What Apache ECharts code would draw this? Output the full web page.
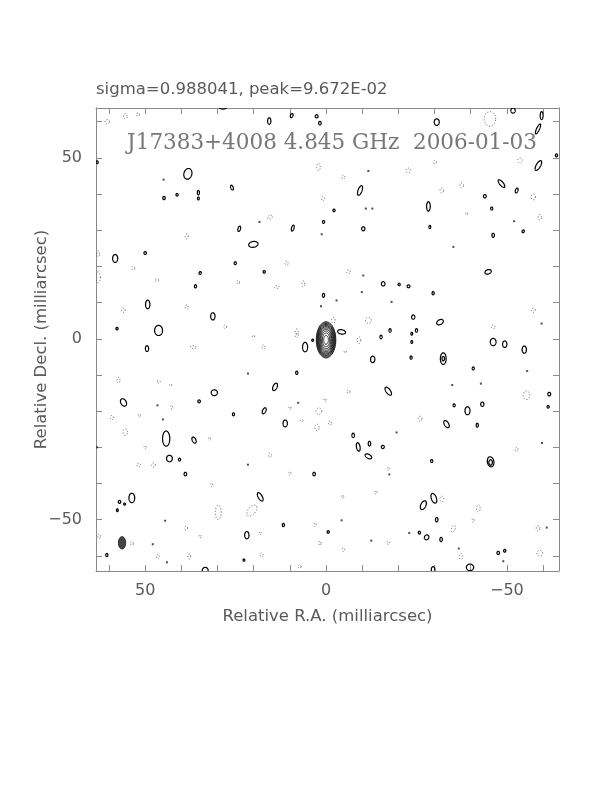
<!DOCTYPE html>
<html>
<head>
<meta charset="utf-8">
<script src="https://cdn.jsdelivr.net/npm/echarts@6/dist/echarts.min.js"></script>
<style>
html,body{margin:0;padding:0;background:#fff;}
#c{width:612px;height:792px;}
</style>
</head>
<body>
<div id="c"></div>
<script>
// ---- data (milliarcsec) ----
var xTickLabels = [50, 0, -50];
var yTickLabels = [50, 0, -50];
var minorTicks = [-60, -50, -40, -30, -20, -10, 0, 10, 20, 30, 40, 50, 60];

// central source: centre and outer contour semi-axes (RA, Dec)
var coreCentre = [0, -0.3];
var coreOuter = [2.7, 5.0];
var coreLevels = [1, 0.95, 0.9, 0.85, 0.79, 0.73, 0.66, 0.58, 0.49, 0.38, 0.24];

// restoring beam [ra, dec, semiRA, semiDec, angle]
var beam = [[56.4, -56.4, 1.0, 1.7, 0]];

// positive contours [ra, dec, semiRA, semiDec, angle(deg, ccw on screen)]
var posContours = [
 [28.5,64.0,1.0,0.5,0],[15.7,60.2,0.45,0.9,0],[9.5,61.7,0.35,0.6,-20],[2.6,61.5,0.4,0.45,0],
 [1.7,59.6,0.35,0.5,0],[63.3,48.8,0.3,0.4,0],[38.2,45.6,1.1,1.5,-15],[44.8,38.9,0.35,0.45,0],
 [41.2,39.8,0.3,0.35,0],[35.3,40.4,0.3,0.6,0],[35.3,38.8,0.25,0.4,0],[26.0,41.8,0.35,0.7,20],
 [24.0,30.4,0.35,0.75,-15],[9.2,30.6,0.35,0.85,-15],[20.1,26.1,1.3,0.8,10],[0.7,32.3,0.3,0.4,0],
 [58.3,22.2,0.7,1.1,0],[50.0,23.7,0.35,0.4,0],[25.1,20.9,0.3,0.4,0],[17.1,18.5,0.3,0.35,0],
 [34.8,18.2,0.3,0.4,-20],[36.1,14.5,0.3,0.45,0],[0.7,12.0,0.3,0.55,0],[49.3,9.5,0.6,1.2,0],
 [31.3,6.2,0.6,1.0,0],[57.8,2.8,0.3,0.35,0],[46.3,2.3,1.1,1.4,0],[-30.6,59.9,0.7,0.9,0],
 [-51.7,63.1,0.6,0.7,0],[-59.6,61.7,0.4,1.1,0],[-58.6,58.0,0.4,1.5,-25],[-63.7,50.7,0.3,0.4,0],
 [-58.7,47.9,0.6,1.5,-30],[-9.4,41.0,0.55,1.4,-20],[-48.5,42.9,0.5,1.3,40],[-52.7,41.0,0.35,0.7,-20],
 [-43.9,39.4,0.4,0.45,0],[-28.3,36.6,0.5,1.3,0],[-2.2,35.5,0.3,0.35,0],[-45.8,36.0,0.3,0.4,0],
 [-10.3,30.4,0.45,0.55,0],[-28.7,30.9,0.25,0.45,0],[-46.2,28.6,0.35,0.55,0],[-54.5,29.7,0.3,0.4,-20],
 [-44.8,18.5,0.9,0.6,20],[-15.8,15.2,0.5,0.6,0],[-20.2,15.0,0.3,0.35,0],[-22.8,14.5,0.4,0.4,0],
 [-29.6,12.6,0.3,0.45,0],[-24.1,6.0,0.45,0.6,0],[-31.5,4.6,1.0,0.65,30],[-17.7,2.3,0.3,0.5,0],
 [-25.0,2.3,0.3,0.5,0],[-4.3,1.9,1.1,0.6,-10],[49.5,-2.7,0.45,0.8,0],[5.8,-2.3,0.7,1.3,0],
 [3.7,-0.4,0.25,0.3,0],[8.1,-9.4,0.3,0.45,0],[14.1,-13.3,0.55,1.1,-25],[30.9,-14.9,0.85,0.8,0],
 [56.0,-17.6,0.75,1.1,30],[35.1,-17.3,0.35,0.4,0],[17.1,-19.9,0.45,0.9,-25],[25.6,-20.9,0.3,0.4,0],
 [11.3,-23.4,0.6,0.95,0],[44.2,-27.6,1.0,2.1,0],[36.5,-28.0,0.5,0.9,25],[43.3,-33.1,0.8,0.9,0],
 [40.5,-33.4,0.3,0.4,0],[38.9,-37.4,0.35,0.5,0],[3.3,-37.4,0.35,0.5,0],[53.7,-44.0,0.8,1.3,0],
 [57.1,-45.1,0.35,0.4,0],[55.7,-45.7,0.25,0.3,0],[57.7,-47.4,0.25,0.4,0],[18.2,-43.7,0.55,1.3,30],
 [11.8,-51.5,0.3,0.45,0],[21.9,-54.3,0.6,1.0,0],[60.6,-59.8,0.3,0.45,0],[-0.6,-53.4,0.3,0.35,0],
 [22.7,-61.2,0.25,0.3,0],[33.4,-64.0,0.8,0.8,0],[-15.2,0.5,0.3,0.5,0],[-23.7,1.4,0.25,0.4,0],
 [-23.7,-0.9,0.25,0.4,0],[-46.2,-0.9,0.8,1.0,0],[-49.4,-1.5,0.6,0.9,0],[-54.8,-3.0,0.6,1.0,0],
 [-12.9,-5.7,0.6,0.9,0],[-23.5,-5.2,0.3,0.45,0],[-32.4,-5.5,0.8,1.6,0],[-32.4,-5.5,0.35,0.6,0],
 [-40.7,-8.2,0.3,0.4,0],[-17.2,-14.5,0.6,1.3,35],[-61.7,-15.3,0.4,0.5,0],[-61.4,-18.8,0.3,0.35,0],
 [-35.4,-18.4,0.3,0.4,0],[-39.1,-19.9,0.7,1.1,0],[-43.2,-18.1,0.45,0.6,0],[-33.3,-23.6,0.6,1.1,30],
 [-41.8,-23.9,0.3,0.55,0],[-7.5,-26.7,0.35,0.6,0],[-8.9,-29.9,0.5,1.2,10],[-12.0,-29.0,0.35,0.65,0],
 [-11.7,-32.5,1.0,0.55,-30],[-15.7,-29.9,0.4,0.45,0],[-29.2,-33.8,0.3,0.4,0],[-45.5,-34.0,0.9,1.4,10],
 [-45.5,-34.2,0.5,0.75,0],[-29.8,-44.1,0.7,1.4,20],[-26.9,-46.0,0.7,1.3,-25],[-30.6,-50.0,0.35,0.6,0],
 [-25.8,-53.6,0.3,0.4,0],[-27.8,-54.9,0.6,0.7,-30],[-31.8,-55.5,0.35,0.6,0],[-47.6,-59.2,0.35,0.45,0],
 [-49.4,-58.6,0.3,0.4,0],[-29.6,-63.8,0.5,0.8,0],[-39.8,-63.2,1.0,0.9,0]
];

// single-pixel positive specks [ra, dec]
var specks = [
 [44.9,44.0],[18.4,32.3],[1.2,28.9],[1.4,9.0],[-11.7,46.4],[-11.0,36.0],[-12.8,36.0],[-52.0,32.5],
 [-35.2,25.4],[-10.3,17.5],[-9.9,12.9],[-2.9,10.6],[-18.1,10.2],[-59.6,4.2],[21.6,-9.6],[46.6,-18.4],
 [7.7,-17.7],[45.1,-22.3],[21.6,-34.8],[44.5,-50.3],[47.9,-56.8],[-34.9,-12.8],[-42.8,-12.4],
 [-19.5,-25.9],[-55.6,-8.9],[-17.5,-37.5],[-23.0,-53.7],[-36.7,-58.0],[-61.0,-52.2],[-49.0,-61.5],
 [-4.3,-50.2],[-12.5,-55.8],[63.3,-30.0],[44.0,-61.8],[-59.7,-28.8]
];

// negative (dotted) contours [ra, dec, semiRA, semiDec, angle]
var negContours = [
 [60.5,60.0,0.6,0.6,0],[55.5,61.5,0.5,0.7,0],[52.0,62.0,0.4,0.5,0],[2.1,47.5,0.5,1.0,0],
 [0.8,38.8,0.4,0.6,0],[15.5,33.6,0.7,0.5,30],[10.9,20.9,0.4,0.6,0],[24.3,15.6,0.4,0.5,0],
 [38.5,28.3,0.4,0.7,0],[63.0,17.0,0.6,1.5,0],[53.3,19.5,0.4,0.5,0],[46.8,16.2,0.5,0.4,0],
 [56.0,7.9,0.5,0.6,0],[38.5,8.8,0.4,0.6,0],[27.9,3.3,0.4,0.5,0],[6.3,15.2,0.4,0.8,0],
 [8.1,1.9,0.4,0.8,0],[13.6,14.3,0.6,0.4,0],[63.0,23.5,0.4,0.8,0],[-45.3,60.8,1.6,2.0,0],
 [-53.6,49.3,0.6,0.7,0],[-22.7,46.5,0.6,0.7,0],[-30.1,48.8,0.4,0.5,0],[-4.8,44.7,0.4,0.6,0],
 [-37.5,42.4,0.5,0.7,0],[-32.0,41.0,0.5,0.7,0],[-57.3,39.2,0.6,0.8,0],[-59.1,33.6,0.5,0.7,0],
 [-38.9,34.6,0.3,0.4,0],[-6.2,18.5,0.5,0.5,0],[-11.7,5.1,0.8,0.8,0],[-2.0,5.1,0.5,0.8,0],
 [-57.3,7.9,0.5,0.6,0],[-46.2,3.3,0.5,0.5,0],[36.7,-2.3,0.8,0.4,0],[17.3,-2.3,0.4,0.6,0],
 [20.1,0.7,0.3,0.3,0],[8.1,0.9,0.4,0.6,0],[57.4,-11.5,0.4,0.8,0],[46.3,-11.9,0.5,0.3,0],
 [43.0,-12.8,0.3,0.3,0],[42.7,-18.9,0.3,0.5,0],[10.0,-19.1,0.3,0.4,0],[2.0,-20.0,0.8,0.9,0],
 [2.5,-24.5,0.6,0.9,0],[59.2,-21.8,0.4,0.6,0],[51.6,-21.2,0.3,0.4,0],[6.7,-22.6,0.4,0.3,0],
 [55.5,-25.8,0.6,0.9,0],[32.2,-27.6,0.3,0.4,0],[50.0,-29.9,0.3,0.4,0],[15.5,-32.2,0.4,0.6,0],
 [51.8,-34.9,0.5,0.5,0],[47.7,-34.9,0.5,0.6,0],[10.0,-37.2,0.3,0.5,0],[31.6,-40.4,0.3,0.5,0],
 [29.8,-48.0,0.8,2.0,0],[20.5,-47.5,1.0,1.8,-40],[38.7,-52.3,0.4,0.5,0],[34.8,-54.6,0.3,0.4,0],
 [18.2,-53.7,0.3,0.4,0],[3.0,-51.4,0.3,0.5,0],[1.7,-56.5,0.3,0.6,0],[37.8,-60.2,0.4,0.7,0],
 [46.5,-60.2,0.4,0.6,0],[17.8,-59.8,0.4,0.6,0],[7.3,-63.0,0.4,0.5,0],[53.7,-56.6,0.4,0.5,0],
 [62.7,-54.6,0.4,0.6,0],[-9.1,-0.4,0.5,0.9,0],[-5.3,-3.6,0.3,0.3,0],[-6.2,-14.6,0.4,0.5,0],
 [-55.4,-15.6,0.9,1.2,0],[0.3,-16.9,0.3,0.4,0],[-1.1,-23.3,0.4,0.6,0],[-26.0,-22.1,0.5,0.7,0],
 [-52.7,-30.6,0.4,0.6,0],[-17.2,-35.9,0.4,0.4,0],[-13.8,-42.5,0.3,0.5,0],[-4.6,-43.6,0.3,0.4,0],
 [-32.0,-44.3,0.5,0.8,0],[-42.1,-46.9,0.5,1.0,0],[-40.7,-50.2,0.3,0.5,0],[-35.2,-52.5,0.5,1.0,-20],
 [-58.6,-52.4,0.5,0.7,0],[-17.2,-56.4,0.4,0.4,0],[-37.3,-60.2,0.5,0.8,0],[-59.1,-59.3,0.8,0.8,0],
 [-4.8,-58.3,0.3,0.5,0]
];

var headerText = 'sigma=0.988041, peak=9.672E-02';
var plotTitle = 'J17383+4008 4.845 GHz  2006-01-03';
var xName = 'Relative R.A. (milliarcsec)';
var yName = 'Relative Decl. (milliarcsec)';

// ---- build ----
var coreData = coreLevels.map(function (f) {
  return [coreCentre[0], coreCentre[1], coreOuter[0] * f, coreOuter[1] * f, 0];
});

function ellipseItem(styleFn) {
  return function (params, api) {
    var ra = api.value(0), dec = api.value(1), a = api.value(2), b = api.value(3);
    var ang = api.value(4) * Math.PI / 180;
    var pts = [], N = 48;
    for (var i = 0; i < N; i++) {
      var t = 2 * Math.PI * i / N;
      var dx = a * Math.cos(t), dy = b * Math.sin(t);
      var rx = dx * Math.cos(ang) - dy * Math.sin(ang);
      var ry = dx * Math.sin(ang) + dy * Math.cos(ang);
      pts.push(api.coord([ra - rx, dec + ry]));
    }
    return { type: 'polygon', shape: { points: pts }, style: styleFn() };
  };
}

var textColor = '#5a5a5a';
var frameColor = '#8a8a8a';
var fontFam = 'DejaVu Sans, sans-serif';

function axisCommon(extra) {
  var o = {
    type: 'value',
    min: -64.4, max: 63.6,
    axisLine: { show: true, onZero: false, lineStyle: { color: frameColor, width: 1 } },
    axisTick: { show: true, inside: true, length: 6, customValues: minorTicks, lineStyle: { color: frameColor } },
    splitLine: { show: false },
    axisLabel: { show: false, formatter: function () { return ''; } }
  };
  for (var k in extra) o[k] = extra[k];
  return o;
}
function fmt(v) { return v < 0 ? '\u2212' + Math.abs(v) : String(v); }

var chart = echarts.init(document.getElementById('c'), null, { renderer: 'canvas' });
chart.setOption({
  animation: false,
  backgroundColor: '#fff',
  grid: { left: 96, top: 108, width: 463, height: 463 },
  xAxis: [
    axisCommon({
      position: 'bottom', inverse: true,
      axisLabel: { show: true, customValues: xTickLabels, formatter: fmt, margin: 12,
        color: textColor, fontSize: 16, fontFamily: fontFam },
      name: xName, nameLocation: 'middle', nameGap: 37, nameMoveOverlap: false,
      nameTextStyle: { color: textColor, fontSize: 16.5, fontFamily: fontFam }
    }),
    axisCommon({ position: 'top', inverse: true })
  ],
  yAxis: [
    axisCommon({
      position: 'left',
      min: -64.2, max: 63.8,
      axisLabel: { show: true, customValues: yTickLabels, formatter: fmt, margin: 14,
        color: textColor, fontSize: 16, fontFamily: fontFam },
      name: yName, nameLocation: 'middle', nameGap: 46, nameMoveOverlap: false,
      nameTextStyle: { color: textColor, fontSize: 16.5, fontFamily: fontFam }
    }),
    axisCommon({ position: 'right', min: -64.2, max: 63.8 })
  ],
  title: [{
    text: headerText, left: 96, top: 81, padding: 0,
    textStyle: { color: textColor, fontSize: 16.5, fontWeight: 'normal', fontFamily: fontFam }
  }],
  graphic: [{
    type: 'text', x: 332, y: 143,
    style: { text: plotTitle, fill: '#777', font: '21.5px "DejaVu Serif", serif',
      textAlign: 'center', textVerticalAlign: 'middle' },
    z: 10
  }],
  series: [
    { type: 'custom', coordinateSystem: 'cartesian2d', clip: true, data: negContours,
      encode: { x: 0, y: 1 },
      renderItem: ellipseItem(function () { return { fill: 'none', stroke: '#555', lineWidth: 1, lineDash: [1, 2] }; }) },
    { type: 'custom', coordinateSystem: 'cartesian2d', clip: true, data: posContours,
      encode: { x: 0, y: 1 },
      renderItem: ellipseItem(function () { return { fill: 'none', stroke: '#000', lineWidth: 1.2 }; }) },
    { type: 'custom', coordinateSystem: 'cartesian2d', clip: true, data: coreData,
      encode: { x: 0, y: 1 },
      renderItem: ellipseItem(function () { return { fill: 'none', stroke: '#222', lineWidth: 1 }; }) },
    { type: 'custom', coordinateSystem: 'cartesian2d', clip: true, data: beam,
      encode: { x: 0, y: 1 },
      renderItem: ellipseItem(function () { return { fill: '#444', stroke: '#222', lineWidth: 1 }; }) },
    { type: 'scatter', coordinateSystem: 'cartesian2d', data: specks, symbol: 'rect', symbolSize: 2,
      itemStyle: { color: '#222' }, silent: true }
  ]
});
</script>
</body>
</html>
